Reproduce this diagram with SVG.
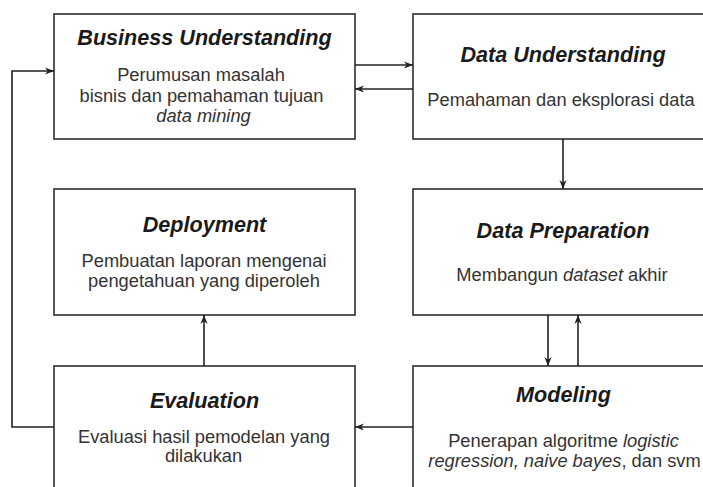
<svg xmlns="http://www.w3.org/2000/svg" width="703" height="487" viewBox="0 0 703 487">
<style>
  .box { fill: #ffffff; stroke: #3a3a3a; stroke-width: 1.7; }
  .title { font-family: "Liberation Sans", Arial, Helvetica, sans-serif; font-size: 21.6px; font-weight: bold; font-style: italic; fill: #1a1a1a; text-anchor: middle; }
  .body { font-family: "Liberation Sans", Arial, Helvetica, sans-serif; font-size: 18.3px; fill: #333333; text-anchor: middle; }
  .it { font-style: italic; }
  .edge { fill: none; stroke: #222222; stroke-width: 1.6; marker-end: url(#arrow); }
</style>
<defs>
  <marker id="arrow" viewBox="0 0 10 10" refX="10" refY="5" markerUnits="userSpaceOnUse" markerWidth="9" markerHeight="9" orient="auto">
    <path d="M0,1 L10,5 L0,9 L3,5 z" fill="#222222"/>
  </marker>
</defs>
<rect width="703" height="487" fill="#ffffff"/>

<g id="business-understanding">
  <rect class="box" x="54" y="14" width="301" height="125"/>
  <text class="title" x="204.5" y="45">Business Understanding</text>
  <text class="body" x="201" y="81">Perumusan masalah</text>
  <text class="body" x="201.5" y="101.5">bisnis dan pemahaman tujuan</text>
  <text class="body it" x="203.5" y="121.5">data mining</text>
</g>

<g id="data-understanding">
  <rect class="box" x="413" y="14" width="301" height="125"/>
  <text class="title" x="563" y="61.5">Data Understanding</text>
  <text class="body" x="561" y="106">Pemahaman dan eksplorasi data</text>
</g>

<g id="deployment">
  <rect class="box" x="54" y="189" width="301" height="126"/>
  <text class="title" x="204.5" y="231.5">Deployment</text>
  <text class="body" x="204" y="267">Pembuatan laporan mengenai</text>
  <text class="body" x="204" y="287">pengetahuan yang diperoleh</text>
</g>

<g id="data-preparation">
  <rect class="box" x="413" y="189" width="301" height="126"/>
  <text class="title" x="563" y="238">Data Preparation</text>
  <text class="body" x="562" y="281">Membangun <tspan class="it">dataset</tspan> akhir</text>
</g>

<g id="evaluation">
  <rect class="box" x="54" y="366" width="301" height="130"/>
  <text class="title" x="204.5" y="407.5">Evaluation</text>
  <text class="body" x="204" y="442.5">Evaluasi hasil pemodelan yang</text>
  <text class="body" x="203.5" y="462">dilakukan</text>
</g>

<g id="modeling">
  <rect class="box" x="413" y="366" width="301" height="130"/>
  <text class="title" x="563.5" y="402">Modeling</text>
  <text class="body" x="563.5" y="447">Penerapan algoritme <tspan class="it">logistic</tspan></text>
  <text class="body" x="564.5" y="467"><tspan class="it">regression, naive bayes</tspan>, dan svm</text>
</g>

<g id="connectors">
  <path class="edge" d="M355,65 L413,65"/>
  <path class="edge" d="M413,89 L355,89"/>
  <path class="edge" d="M563,139 L563,189"/>
  <path class="edge" d="M548,315 L548,366"/>
  <path class="edge" d="M578,366 L578,315"/>
  <path class="edge" d="M413,427 L355,427"/>
  <path class="edge" d="M204,366 L204,315"/>
  <path class="edge" d="M54,427 L12,427 L12,71 L54,71"/>
</g>
</svg>
